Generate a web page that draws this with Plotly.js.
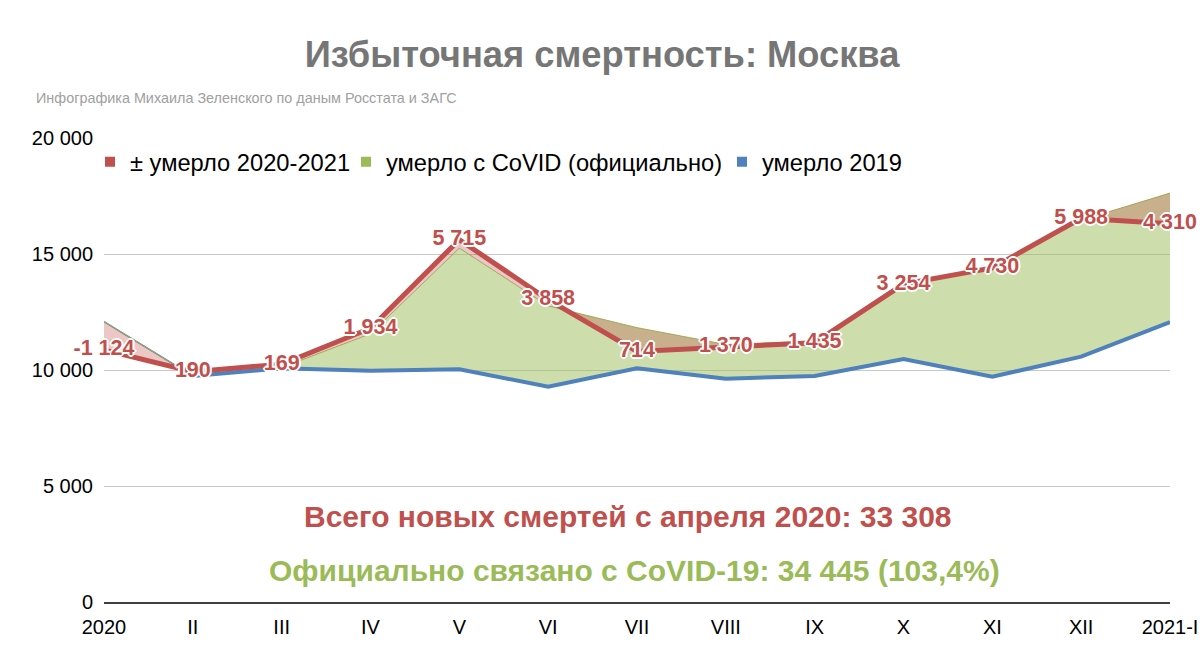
<!DOCTYPE html>
<html>
<head>
<meta charset="utf-8">
<script src="https://cdn.plot.ly/plotly-3.0.1.min.js"></script>
<style>html,body{margin:0;padding:0;background:#fff;}#chart{width:1204px;height:669px;}</style>
</head>
<body>
<div id="chart"></div>
<script>
// Data
const months = ['2020','II','III','IV','V','VI','VII','VIII','IX','X','XI','XII','2021-I'];
const deaths2019 = [12085, 9741, 10073, 9970, 10030, 9280, 10073, 9625, 9740, 10475, 9712, 10575, 12060];
const deaths2020 = [10870, 9930, 10250, 11800, 15620, 13030, 10800, 11000, 11177, 13700, 14400, 16540, 16300];
const covidOfficial = [0, 0, 30, 1590, 5222, 3482, 1753, 1475, 1510, 3325, 4638, 5885, 5565];
const excessLabels = ['-1 124','190','169','1 934','5 715','3 858','714','1 370','1 435','3 254','4 730','5 988','4 310'];
const legendNames = ['± умерло 2020-2021', 'умерло с CoVID (официально)', 'умерло 2019'];

const RED = '#c0504d', GREEN = '#9bbb59', BLUE = '#4f81bd';
const FONT = 'Liberation Sans, Arial, sans-serif';

const covidTop = deaths2019.map((v, i) => v + covidOfficial[i]);

const traces = [
  {x: months, y: deaths2019, type: 'scatter', mode: 'lines', line: {color: BLUE, width: 1.5}, showlegend: false, hoverinfo: 'skip'},
  {x: months, y: covidTop, type: 'scatter', mode: 'lines', fill: 'tonexty', fillcolor: 'rgba(155,187,89,0.5)', line: {color: GREEN, width: 1}, showlegend: false, hoverinfo: 'skip'},
  {x: months, y: covidTop, type: 'scatter', mode: 'lines', line: {width: 0, color: 'rgba(0,0,0,0)'}, showlegend: false, hoverinfo: 'skip'},
  {x: months, y: deaths2020, type: 'scatter', mode: 'lines', fill: 'tonexty', fillcolor: 'rgba(192,80,77,0.32)', line: {width: 0, color: 'rgba(0,0,0,0)'}, showlegend: false, hoverinfo: 'skip'},
  {x: months.slice(1), y: deaths2019.slice(1), type: 'scatter', mode: 'lines', line: {color: BLUE, width: 4}, showlegend: false},
  {x: months, y: deaths2020, type: 'scatter', mode: 'lines+text', line: {color: RED, width: 5}, showlegend: false,
   text: excessLabels, textposition: 'middle center', cliponaxis: false,
   textfont: {family: FONT, size: 21.5, color: RED, weight: 'bold',
     shadow: '-1px -1px 0 #fff, 1px -1px 0 #fff, -1px 1px 0 #fff, 1px 1px 0 #fff, 0 2px 0 #fff, 0 -2px 0 #fff, 2px 0 0 #fff, -2px 0 0 #fff'}},
  {x: [null], y: [null], type: 'scatter', mode: 'markers', name: legendNames[0], legend: 'legend', marker: {symbol: 'square', size: 10, color: RED}},
  {x: [null], y: [null], type: 'scatter', mode: 'markers', name: legendNames[1], legend: 'legend2', marker: {symbol: 'square', size: 10, color: GREEN}},
  {x: [null], y: [null], type: 'scatter', mode: 'markers', name: legendNames[2], legend: 'legend3', marker: {symbol: 'square', size: 10, color: BLUE}}
];

function legendAt(px) {
  return {orientation: 'h', x: (px - 104) / 1066, xanchor: 'left', y: (601.7 - 162) / 463.4, yanchor: 'middle',
          bgcolor: 'rgba(0,0,0,0)', font: {family: FONT, size: 23.7, color: '#000'}, itemwidth: 30};
}

const layout = {
  width: 1204, height: 669,
  margin: {l: 104, r: 34, t: 138, b: 67},
  paper_bgcolor: '#fff', plot_bgcolor: '#fff',
  separators: ', ',
  font: {family: FONT, color: '#000'},
  title: {text: 'Избыточная смертность: Москва', x: 0.5, xref: 'container', y: 1 - 54/669, yref: 'container', yanchor: 'middle',
          font: {family: FONT, size: 36.3, color: '#767676', weight: 'bold'}},
  xaxis: {type: 'category', categoryorder: 'array', categoryarray: months, range: [0, 12],
          showgrid: false, zeroline: false, showline: true, linecolor: '#404040', linewidth: 1.5,
          ticks: '', ticklabelstandoff: 6, tickfont: {family: FONT, size: 20, color: '#000'}, fixedrange: true},
  yaxis: {range: [0, 20000], dtick: 5000, tickformat: ',d', showgrid: true, gridcolor: '#c8c8c8', gridwidth: 1,
          zeroline: false, showline: false, ticks: '', ticklabelstandoff: 10, tickfont: {family: FONT, size: 20, color: '#000'}, fixedrange: true},
  legend: legendAt(90),
  legend2: legendAt(346),
  legend3: legendAt(722),
  annotations: [
    {text: 'Инфографика Михаила Зеленского по даным Росстата и ЗАГС', xref: 'paper', yref: 'paper',
     x: (34 - 104) / 1066, y: (601.7 - 98) / 463.4, xanchor: 'left', yanchor: 'middle', showarrow: false,
     font: {family: FONT, size: 14.4, color: '#a0a0a0'}},
    {text: 'Всего новых смертей с апреля 2020: 33 308', xref: 'paper', yref: 'paper',
     x: (628 - 104) / 1066, y: (601.7 - 516) / 463.4, xanchor: 'center', yanchor: 'middle', showarrow: false,
     font: {family: FONT, size: 30, color: RED, weight: 'bold'}},
    {text: 'Официально связано с CoVID-19: 34 445 (103,4%)', xref: 'paper', yref: 'paper',
     x: (634 - 104) / 1066, y: (601.7 - 570) / 463.4, xanchor: 'center', yanchor: 'middle', showarrow: false,
     font: {family: FONT, size: 30, color: GREEN, weight: 'bold'}}
  ]
};

Plotly.newPlot('chart', traces, layout, {displayModeBar: false, staticPlot: true});
</script>
</body>
</html>
